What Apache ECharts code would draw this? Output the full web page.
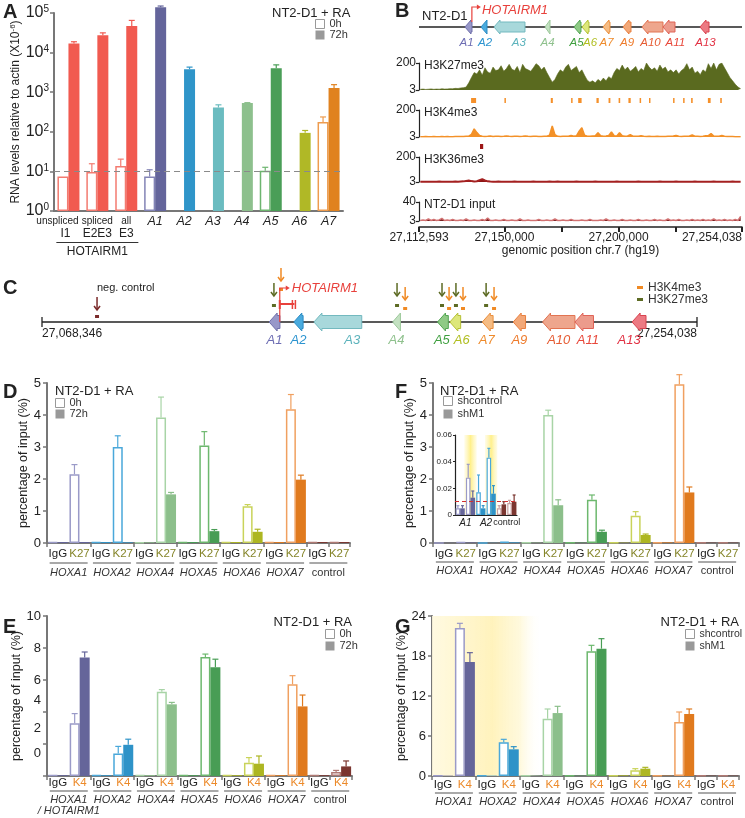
<!DOCTYPE html>
<html><head><meta charset="utf-8"><title>HOTAIRM1 figure</title>
<script src="https://cdn.jsdelivr.net/npm/echarts@6.0.0/dist/echarts.min.js"></script>
<style>html,body{margin:0;padding:0;background:#fff;}#chart{width:745px;height:818px;}</style>
</head><body><div id="chart"></div>
<script>
const FONT = "'Liberation Sans', Arial, Helvetica, sans-serif";

// ================= Panel A =================
const aCats = ['I1','E2E3','E3','A1','A2','A3','A4','A5','A6','A7'];
const aTop = ['unspliced','spliced','all'];
const aGroupLabel = 'HOTAIRM1';
const a0h = [7.4, 9.6, 13.6, 7.4, null, null, null, 10.4, null, 178];
const a72h = [17000, 27500, 47000, 140000, 3800, 410, 530, 4050, 94, 1280];
const a0hErr = [null, 15.6, 20.4, 11, null, null, null, 12.7, null, 237];
const a72hErr = [18800, 31500, 65000, 150000, 4300, 480, 545, 4900, 108, 1550];
const aThreshold = 10;
const aColorIdx = [0,0,0,1,2,3,4,5,6,7];
const aFill = ['#f15a50','#64659b','#2f95c9','#6bbcc0','#8dc08d','#4a9e57','#b0b826','#e0821f'];
const aLine = ['#f37b70','#8384b6','#48a5d6','#8bcbcd','#a8cfa6','#6db56f','#c8cf55','#ee9c4f'];

// ================= Panel B =================
const gStart = 27112593, gEnd = 27254038;
const bTicks = [27112593, 27150000, 27175000, 27200000, 27225000, 27254038];
const bTickLabels = [27112593, 27150000, 27200000, 27254038];
const geneNames = ['A1','A2','A3','A4','A5','A6','A7','A9','A10','A11','A13'];
const geneStart = [27132736,27139743,27145435,27167765,27180468,27183970,27193166,27201924,27210244,27219440,27235640];
const geneEnd   = [27135801,27142370,27158999,27169960,27183533,27187036,27196231,27205427,27219440,27224695,27239581];
const hotTss = 27135750, hotEnd = 27139900;
const k27 = [8,10,7,9,11,8,10,9,12,10,11,13,12,15,14,18,20,24,
  55,95,130,
  120,150,110,165,135,125,170,145,150,180,140,160,190,155,
  145,175,130,190,160,150,
  140,165,195,180,150,170,130,
  95,60,80,120,
  150,135,170,190,145,160,175,130,150,110,
  75,60,70,55,80,65,90,70,100,85,
  130,160,145,185,150,170,140,155,175,135,
  160,145,200,170,150,165,
  140,185,155,170,135,150,
  130,150,120,145,160,
  195,150,170,
  125,140,115,150,135,
  195,160,200,150,190,200,165,
  130,95,70,45,25,
  12];
const k4 = [5,5,6,5,5,6,5,5,6,5,6,5,5,6,6,7,6,8,9,
  22,62,35,14,
  9,7,8,10,7,8,9,7,8,10,8,7,9,8,7,8,10,8,7,9,8,7,6,8,9,
  16,84,20,
  8,7,9,8,9,15,8,12,
  45,70,16,
  9,8,10,12,
  35,12,9,10,14,40,12,10,35,12,9,11,20,9,8,9,12,8,
  7,8,7,6,8,7,7,6,8,9,10,
  15,
  8,7,9,8,10,
  18,
  9,8,7,9,12,
  14,28,
  10,8,9,
  15,
  8,7,6,6,5,5,5];
const k36 = [5,4,5,5,4,5,5,6,5,5, 4,5,5,6,5,7,8,11,14,10, 7,9,18,26,16,8,6,5,5,6, 5,5,4,5,5,6,5,5,5,4,
  5,5,6,5,5,5,4,5,6,5, 5,7,5,5,4,5,5,5,6,5, 5,4,5,5,5,6,5,5,5,4, 5,5,5,6,5,5,4,5,5,5,
  5,6,5,5,4,5,5,5,5,6, 5,4,5,5,5,6,5,5,4,5, 5,5,6,5,5,4,5,5,5,6, 5,5,4,5,5,5,6,5,5,5];
const inputSig = [4,5,4,7,4,6,4,5,8,4, 5,4,6,4,4,5,4,7,4,4, 5,4,4,6,4,9,4,4,5,4, 4,6,4,4,5,4,4,7,4,4,
  5,4,4,4,6,4,4,5,4,4, 7,4,4,5,4,4,6,4,4,4, 5,4,4,6,4,4,4,5,4,7, 4,4,5,4,4,6,4,4,5,4,
  4,6,4,4,5,4,4,6,4,5, 4,4,7,4,5,4,6,4,4,5, 4,6,4,5,4,6,4,5,4,7, 4,5,4,6,4,5,4,6,4,12];
const k4PeakStart = [27135400,27150000,27170300,27179200,27182300,27190300,27195600,27200000,27204300,27209200,27213300,27223850,27228250,27231750,27239100,27244500];
const k4PeakEnd   = [27137600,27150500,27171200,27179700,27183800,27191300,27196400,27200700,27205300,27209700,27213800,27224250,27228650,27232450,27240300,27245200];
const k36PeakStart = [27139300], k36PeakEnd = [27140700];

// ================= Panel C =================
const cStart = 27068346, cEnd = 27254038;
const k27Amp = [27134100, 27169000, 27181750, 27185700, 27194250];
const k4Amp  = [27136100, 27171300, 27183750, 27187700, 27196500];
const negAmp = [27083950];

// ================= Panels D-G =================
const hoxGroups = ['HOXA1','HOXA2','HOXA4','HOXA5','HOXA6','HOXA7','control'];
const d0h  = [0.03,2.15, 0.03,3.0, 0.02,3.92, 0.03,3.05, 0.03,1.15, 0.03,4.18, 0.03,0.03];
const d72h = [0.03,0.03, 0.03,0.02, 0.02,1.52, 0.03,0.37, 0.03,0.35, 0.03,1.98, 0.03,0.03];
const d0hErr  = [null,2.45, null,3.35, null,4.56, null,3.48, null,1.2, null,4.64, null,null];
const d72hErr = [null,null, null,null, null,1.58, null,0.42, null,0.43, null,2.12, null,null];

const f0  = [0.005,0.03, 0.005,0.04, 0.01,4.0, 0.01,1.35, 0.01,0.85, 0.02,4.96, 0.01,0.01];
const f1  = [0.005,0.015, 0.005,0.02, 0.01,1.18, 0.01,0.35, 0.01,0.25, 0.02,1.58, 0.01,0.01];
const f0Err = [null,null, null,null, null,4.15, null,1.5, null,0.98, null,5.26, null,null];
const f1Err = [null,null, null,null, null,1.35, null,0.4, null,0.28, null,1.75, null,null];

const insetGroups = ['A1','A2','control'];
const i0 = [0.005, 0.028, 0.017, 0.043, 0.005, 0.009];
const i1 = [0.005, 0.013, 0.005, 0.016, 0.008, 0.010];
const i0Err = [0.007, 0.038, 0.030, 0.050, 0.007, 0.011];
const i1Err = [0.007, 0.018, 0.007, 0.022, 0.010, 0.015];
const insetHi = [1, 3];
const insetCut = 0.012;

const eGroups = ['HOXA1\n/ HOTAIRM1','HOXA2','HOXA4','HOXA5','HOXA6','HOXA7','control'];
const e0 = [0.05,3.3, 0.05,1.4, 0.05,5.27, 0.05,7.44, 0.05,0.83, 0.05,5.73, 0.05,0.25];
const e1 = [0.05,7.4, 0.05,1.95, 0.05,4.48, 0.05,6.8, 0.05,0.77, 0.05,4.35, 0.05,0.6];
const e0Err = [null,3.9, null,1.85, null,5.4, null,7.62, null,1.15, null,6.27, null,0.35];
const e1Err = [null,7.75, null,2.3, null,4.6, null,7.3, null,1.25, null,5.06, null,0.94];

const g0 = [0.05,22.2, 0.05,5.05, 0.05,8.6, 0.05,18.7, 0.1,0.86, 0.05,8.1, 0.05,0.05];
const g1 = [0.05,17.1, 0.05,4.0, 0.05,9.44, 0.05,19.1, 0.1,1.1, 0.05,9.3, 0.05,0.05];
const g0Err = [null,22.9, null,5.5, null,10.05, null,19.6, null,1.1, null,9.6, null,null];
const g1Err = [null,18.5, null,4.4, null,10.45, null,20.6, null,1.3, null,10.05, null,null];
const gHi = [[0, 4]];

// ================= styles =================
const pFill = ['#65659a','#2e93c8','#8cbf8b','#489d55','#adb622','#e07a1e','#7b3630'];
const pLine = ['#9a9ac8','#4aa8da','#a8d4a6','#6db86e','#c9d35a','#f0a060','#b07a74'];
const insetFill = ['#65659a','#2e93c8','#7b3630'];
const insetLine = ['#9a9ac8','#4aa8da','#c9a0a0'];
const geneFill = ['#9898c9','#4aabde','#a8d8db','#c4e1c2','#8fca86','#dde77a','#f5bc84','#f2a878','#eea68d','#ec9b8c','#ec7a83'];
const geneStroke = ['#7070aa','#2c8cc4','#73b9bf','#9dc99b','#53a654','#b6c137','#eb8f3d','#e98040','#e27452','#e06458','#d9434f'];
const geneText = ['#6d6db3','#2c94d0','#5cb3bc','#8fc18d','#3e9f3e','#b0be20','#ee8b2c','#ee7b2c','#e65c33','#e8483b','#e23244'];
const geneLabelFrac = [0,0,0.3,0,0,0.5,0,0,0,0.2,0];
const geneLabelShiftB = [-2,1,0,0,-1,1,0,0,-2,4,1];
const geneLabelShiftC = [0,0,0,0,-1,1,-1,0,0,0,-10];
const RED = '#e8413c', ORANGE = '#f08a24', OLIVE = '#5d6b24';

// ================= builders =================
const option = {animation:false, textStyle:{fontFamily:FONT}, grid:[], xAxis:[], yAxis:[], series:[], legend:[], graphic:[]};
function addGrid(g){ option.grid.push(Object.assign({outerBoundsMode:'none', containLabel:false}, g)); return option.grid.length-1; }
function addX(a){ option.xAxis.push(a); return option.xAxis.length-1; }
function addY(a){ option.yAxis.push(a); return option.yAxis.length-1; }
const fmtNum = v => Math.round(v).toLocaleString('en-US');

function errRender(offset, cap, colors){
  return function(params, api){
    const i = api.value(0);
    const b = api.coord([i, api.value(1)]);
    const t = api.coord([i, api.value(2)]);
    const x = b[0] + offset;
    const c = colors[api.value(3)];
    return {type:'group', children:[
      {type:'line', shape:{x1:x,y1:b[1],x2:x,y2:t[1]}, style:{stroke:c, lineWidth:1.2}},
      {type:'line', shape:{x1:x-cap,y1:t[1],x2:x+cap,y2:t[1]}, style:{stroke:c, lineWidth:1.2}}
    ]};
  };
}
function errData(vals, errs, grpFn){
  const out = [];
  errs.forEach((e,i)=>{ if(e!=null && vals[i]!=null) out.push([i, vals[i], e, grpFn(i)]); });
  return out;
}

function legendBox(left, top, names, gap, fs){
  return {left, top, padding:0, orient:'vertical', itemWidth:9, itemHeight:9, itemGap:gap, selectedMode:false, icon:'rect',
    textStyle:{fontSize:fs||11, color:'#333', lineHeight:11},
    data:[{name:names[0], itemStyle:{color:'#fff', borderColor:'#999', borderWidth:1}},
          {name:names[1], itemStyle:{color:'#999', borderWidth:0}}]};
}
function txt(text, x, y, font, fill, align){
  option.graphic.push({type:'text', x, y, silent:true, style:{text, font, fill: fill||'#222', align: align||'left', verticalAlign:'middle', textAlign: align||'left', textVerticalAlign:'middle'}});
}

// ================= Panel A =================
const gA = addGrid({left:54, top:13, width:289, height:198});
const xA = addX({type:'category', gridIndex:gA, data:aCats, axisLine:{lineStyle:{color:'#777', width:2}}, axisTick:{show:false},
  axisLabel:{interval:0, margin:4, color:'#222',
    formatter:(v,i)=>{
      if(i===0) return '{s0|'+aTop[i]+'}\n{b0|'+v+'}';
      if(i<3){ let s='{s|'+aTop[i]+'}\n{b|'+v+'}'; if(i===1) s+='\n{ul| }\n{h|'+aGroupLabel+'}'; return s; }
      return '{it|'+v+'}'; },
    rich:{s:{fontSize:10,lineHeight:13,color:'#222'}, s0:{fontSize:10,lineHeight:13,color:'#222', padding:[0,22,0,0]},
      b:{fontSize:12,lineHeight:12,color:'#222'}, b0:{fontSize:12,lineHeight:12,color:'#222', padding:[0,6,0,0]},
      it:{fontSize:12.5,lineHeight:13,fontStyle:'italic',color:'#222'},
      ul:{width:82,height:1,lineHeight:5,backgroundColor:'#333'}, h:{fontSize:12,lineHeight:14,color:'#222'}}}});
const yA = addY({type:'log', gridIndex:gA, min:1, max:100000, logBase:10,
  axisLine:{show:true, lineStyle:{color:'#777', width:2}}, axisTick:{show:true, length:4, lineStyle:{color:'#777', width:1.5}}, splitLine:{show:false},
  axisLabel:{margin:5, formatter:v=>'{b|10}{s|'+Math.round(Math.log10(v))+'}', rich:{b:{fontSize:16,color:'#222'}, s:{fontSize:10,color:'#222',verticalAlign:'top', padding:[0,0,7,0]}}},
  name:'RNA levels relative to actin (X10{s|-6})', nameLocation:'middle', nameGap:29,
  nameTextStyle:{fontSize:12, color:'#222', rich:{s:{fontSize:8, color:'#222', padding:[0,0,6,0]}}}});
option.series.push({type:'line', xAxisIndex:xA, yAxisIndex:yA, data:[], z:1, silent:true,
  markLine:{silent:true, symbol:'none', label:{show:false}, lineStyle:{type:[6,4], color:'#8a8a8a', width:1.2}, data:[{yAxis:aThreshold}]}});
option.series.push({type:'bar', name:'0h', xAxisIndex:xA, yAxisIndex:yA, barWidth:11, barGap:'0%', clip:false, z:3,
  data:a0h.map((v,i)=> v==null ? '-' : {value:v, itemStyle:{color:'#fff', borderColor:aLine[aColorIdx[i]], borderWidth:1.5}})});
option.series.push({type:'bar', name:'72h', xAxisIndex:xA, yAxisIndex:yA, barWidth:11, clip:false, z:3,
  data:a72h.map((v,i)=>({value:v, itemStyle:{color:aFill[aColorIdx[i]]}}))});
option.series.push({type:'custom', xAxisIndex:xA, yAxisIndex:yA, z:4, silent:true, renderItem:errRender(-5.5, 3, aLine), data:errData(a0h, a0hErr, i=>aColorIdx[i])});
option.series.push({type:'custom', xAxisIndex:xA, yAxisIndex:yA, z:4, silent:true, renderItem:errRender(5.5, 3, aFill), data:errData(a72h, a72hErr, i=>aColorIdx[i])});
option.legend.push(legendBox(315, 18.5, ['0h','72h'], 0));
txt('NT2-D1 + RA', 272, 13, '13px '+FONT);

// ================= Panel B =================
const bLeft = 419, bWidth = 323;
const binBp = (gEnd - gStart) / k27.length;
const binPos = i => Math.round(gStart + (i + 0.5) * binBp);
function hiddenX(grid){ return addX({type:'value', gridIndex:grid, min:gStart, max:gEnd, show:false}); }
function hiddenY(grid, mn, mx){ return addY({type:'value', gridIndex:grid, min:mn, max:mx, show:false}); }
function trackY(grid, max){
  return addY({type:'value', gridIndex:grid, min:3, max:max,
    axisLine:{show:true, lineStyle:{color:'#222', width:1.2}},
    axisTick:{show:true, customValues:[3,max], length:3, lineStyle:{color:'#222', width:1.2}},
    axisLabel:{customValues:[3,max], fontSize:12, color:'#222', margin:3}, splitLine:{show:false}});
}
function geneRenderer(headH, bodyH, headLen, labelDy, fontSize, shift){
  return function(params, api){
    const i = api.value(2);
    const s = api.coord([api.value(0), 0]);
    const e = api.coord([api.value(1), 0]);
    const y = s[1], x1 = s[0], x2 = e[0];
    let pts;
    if (x2 - x1 <= headLen + 0.5) pts = [[x1,y],[x2,y-headH/2],[x2,y+headH/2]];
    else pts = [[x1,y],[x1+headLen,y-headH/2],[x1+headLen,y-bodyH/2],[x2,y-bodyH/2],[x2,y+bodyH/2],[x1+headLen,y+bodyH/2],[x1+headLen,y+headH/2]];
    const lx = (x1+x2)/2 + geneLabelFrac[i]*(x2-x1) + shift[i];
    return {type:'group', children:[
      {type:'polygon', shape:{points:pts}, style:{fill:geneFill[i], stroke:geneStroke[i], lineWidth:1}},
      {type:'text', x:lx, y:y+labelDy, style:{text:geneNames[i], fill:geneText[i], font:'italic '+fontSize+'px '+FONT, align:'center', verticalAlign:'middle'}}
    ]};
  };
}
const geneData = geneNames.map((n,i)=>[geneStart[i], geneEnd[i], i]);

// genes track
const gBg = addGrid({left:bLeft, width:bWidth, top:17, height:10});
const xBg = hiddenX(gBg), yBg = hiddenY(gBg, 0, 1);
option.series.push({type:'custom', xAxisIndex:xBg, yAxisIndex:yBg, z:2, silent:true, data:[[gStart, gEnd]],
  renderItem:(p, api)=>{ const a = api.coord([api.value(0),0]), b = api.coord([api.value(1),0]);
    return {type:'line', shape:{x1:a[0],y1:a[1],x2:b[0],y2:b[1]}, style:{stroke:'#222', lineWidth:1.3}}; }});
option.series.push({type:'custom', xAxisIndex:xBg, yAxisIndex:yBg, z:3, silent:true, data:geneData, renderItem:geneRenderer(14, 10, 6, 16, 11.5, geneLabelShiftB)});
option.series.push({type:'custom', xAxisIndex:xBg, yAxisIndex:yBg, z:4, silent:true, data:[[hotTss, hotEnd]],
  renderItem:(p, api)=>{ const c = api.coord([api.value(0),0]); const x=c[0], y=c[1];
    return {type:'group', children:[
      {type:'polyline', shape:{points:[[x,y-5],[x,y-20],[x+6,y-20]]}, style:{stroke:RED, lineWidth:1.2, fill:null}},
      {type:'polygon', shape:{points:[[x+9,y-20],[x+5,y-22.5],[x+5,y-17.5]]}, style:{fill:RED}},
      {type:'text', x:x+10, y:y-17, style:{text:'HOTAIRM1', font:'italic 13px '+FONT, fill:RED, align:'left', verticalAlign:'middle'}}
    ]}; }});
txt('NT2-D1', 422, 16, '13px '+FONT);
txt('B', 395, 11, 'bold 20px '+FONT);

// H3K27me3
const gB1 = addGrid({left:bLeft, width:bWidth, top:63, height:27});
const xB1 = hiddenX(gB1), yB1 = trackY(gB1, 200);
option.series.push({type:'line', xAxisIndex:xB1, yAxisIndex:yB1, silent:true, symbol:'none', data:k27.map((v,i)=>[binPos(i), v]),
  lineStyle:{color:'#5a6a1f', width:0.6}, areaStyle:{color:'#5a6a1f', opacity:1, origin:'start'}});
txt('H3K27me3', 424, 66, '12px '+FONT);

// H3K4me3 peak calls
const gB2 = addGrid({left:bLeft, width:bWidth, top:98, height:5});
const xB2 = hiddenX(gB2), yB2 = hiddenY(gB2, 0, 1);
function blockRender(color){
  return (p, api)=>{ const a = api.coord([api.value(0), 1]), b = api.coord([api.value(1), 0]);
    const w = Math.max(1.5, b[0]-a[0]);
    return {type:'rect', shape:{x:a[0], y:a[1], width:w, height:b[1]-a[1]}, style:{fill:color}}; };
}
option.series.push({type:'custom', xAxisIndex:xB2, yAxisIndex:yB2, silent:true, data:k4PeakStart.map((s,i)=>[s, k4PeakEnd[i]]), renderItem:blockRender('#f5902a')});

// H3K4me3
const gB3 = addGrid({left:bLeft, width:bWidth, top:110, height:27});
const xB3 = hiddenX(gB3), yB3 = trackY(gB3, 200);
option.series.push({type:'line', xAxisIndex:xB3, yAxisIndex:yB3, silent:true, symbol:'none', data:k4.map((v,i)=>[binPos(i), v]),
  lineStyle:{color:'#f39128', width:1.5}, areaStyle:{color:'#f39128', opacity:1, origin:'start'}});
txt('H3K4me3', 424, 113, '12px '+FONT);

// H3K36me3 peak
const gB4 = addGrid({left:bLeft, width:bWidth, top:144, height:5});
const xB4 = hiddenX(gB4), yB4 = hiddenY(gB4, 0, 1);
option.series.push({type:'custom', xAxisIndex:xB4, yAxisIndex:yB4, silent:true, data:k36PeakStart.map((s,i)=>[s, k36PeakEnd[i]]), renderItem:blockRender('#9c1616')});

// H3K36me3
const gB5 = addGrid({left:bLeft, width:bWidth, top:157, height:25});
const xB5 = hiddenX(gB5), yB5 = trackY(gB5, 200);
option.series.push({type:'line', xAxisIndex:xB5, yAxisIndex:yB5, silent:true, symbol:'none', data:k36.map((v,i)=>[binPos(i), v]),
  lineStyle:{color:'#a42020', width:2}, areaStyle:{color:'#8b1414', opacity:1, origin:'start'}});
txt('H3K36me3', 424, 160, '12px '+FONT);

// input
const gB6 = addGrid({left:bLeft, width:bWidth, top:202, height:19});
const xB6 = addX({type:'value', gridIndex:gB6, min:gStart, max:gEnd, position:'bottom', offset:6,
  axisLine:{show:true, onZero:false, lineStyle:{color:'#222', width:1.5}},
  axisTick:{show:true, customValues:bTicks, length:5, lineStyle:{color:'#222', width:2}},
  axisLabel:{customValues:bTickLabels, formatter:fmtNum, fontSize:12, color:'#222', margin:5, alignMaxLabel:'right'},
  splitLine:{show:false}, name:'genomic position chr.7 (hg19)', nameLocation:'middle', nameGap:17, nameTextStyle:{fontSize:12, color:'#222'}});
const yB6 = trackY(gB6, 40);
option.series.push({type:'line', xAxisIndex:xB6, yAxisIndex:yB6, silent:true, symbol:'none', data:inputSig.map((v,i)=>[binPos(i), v]),
  lineStyle:{color:'#d27272', width:1.5}, areaStyle:{color:'#7a1f1f', opacity:1, origin:'start'}});
txt('NT2-D1 input', 424, 205, '12px '+FONT);

// ================= Panel C =================
const gC = addGrid({left:42, top:282, width:655, height:40});
const xC = addX({type:'value', gridIndex:gC, min:cStart, max:cEnd, axisLine:{show:false}, axisTick:{show:false}, splitLine:{show:false},
  axisLabel:{customValues:[cStart, cEnd], formatter:fmtNum, fontSize:12, color:'#222', margin:6, alignMinLabel:'left', alignMaxLabel:'right'}});
const yC = hiddenY(gC, 0, 10);
option.series.push({type:'custom', xAxisIndex:xC, yAxisIndex:yC, z:2, silent:true, data:[[cStart, cEnd]],
  renderItem:(p, api)=>{ const a = api.coord([api.value(0),0]), b = api.coord([api.value(1),0]);
    return {type:'group', children:[
      {type:'line', shape:{x1:a[0],y1:a[1],x2:b[0],y2:b[1]}, style:{stroke:'#222', lineWidth:1.3}},
      {type:'line', shape:{x1:a[0],y1:a[1]-5,x2:a[0],y2:a[1]+5}, style:{stroke:'#222', lineWidth:1.3}},
      {type:'line', shape:{x1:b[0],y1:b[1]-5,x2:b[0],y2:b[1]+5}, style:{stroke:'#222', lineWidth:1.3}}]}; }});
option.series.push({type:'custom', xAxisIndex:xC, yAxisIndex:yC, z:3, silent:true, data:geneData, renderItem:geneRenderer(18, 13, 8, 18, 13, geneLabelShiftC)});
function arrowDown(x, yTop, yTip, color){
  return [{type:'line', shape:{x1:x,y1:yTop,x2:x,y2:yTip}, style:{stroke:color, lineWidth:1.5}},
          {type:'polyline', shape:{points:[[x-3,yTip-4],[x,yTip],[x+3,yTip-4]]}, style:{stroke:color, lineWidth:1.5, fill:null}}];
}
option.series.push({type:'custom', name:'H3K27me3', xAxisIndex:xC, yAxisIndex:yC, z:4, silent:true, itemStyle:{color:OLIVE}, data:k27Amp.map(v=>[v]),
  renderItem:(p, api)=>{ const c = api.coord([api.value(0),0]); const x=c[0], y=c[1];
    return {type:'group', children:arrowDown(x, y-39, y-26, OLIVE).concat([{type:'rect', shape:{x:x-2,y:y-18,width:4,height:3}, style:{fill:OLIVE}}])}; }});
option.series.push({type:'custom', name:'H3K4me3', xAxisIndex:xC, yAxisIndex:yC, z:4, silent:true, itemStyle:{color:ORANGE}, data:k4Amp.map(v=>[v]),
  renderItem:(p, api)=>{ const c = api.coord([api.value(0),0]); const x=c[0], y=c[1];
    const up = p.dataIndex === 0 ? 19 : 0;
    return {type:'group', children:arrowDown(x, y-35-up, y-22-up, ORANGE).concat([{type:'rect', shape:{x:x-2,y:y-15-up,width:4,height:3}, style:{fill:ORANGE}}])}; }});
option.series.push({type:'custom', xAxisIndex:xC, yAxisIndex:yC, z:4, silent:true, data:negAmp.map(v=>[v]),
  renderItem:(p, api)=>{ const c = api.coord([api.value(0),0]); const x=c[0], y=c[1];
    return {type:'group', children:arrowDown(x, y-25, y-12, '#7a2a2a').concat([{type:'rect', shape:{x:x-2,y:y-7,width:4,height:3}, style:{fill:'#7a2a2a'}}])}; }});
option.series.push({type:'custom', xAxisIndex:xC, yAxisIndex:yC, z:5, silent:true, data:[[hotTss, hotEnd]],
  renderItem:(p, api)=>{ const c = api.coord([api.value(0),0]), d = api.coord([api.value(1),0]); const x=c[0], y=c[1], x2=d[0];
    return {type:'group', children:[
      {type:'polyline', shape:{points:[[x,y],[x,y-34],[x+7,y-34]]}, style:{stroke:RED, lineWidth:1.2, fill:null}},
      {type:'polygon', shape:{points:[[x+10,y-34],[x+6,y-36.5],[x+6,y-31.5]]}, style:{fill:RED}},
      {type:'text', x:x+12, y:y-34, style:{text:'HOTAIRM1', font:'italic 13px '+FONT, fill:RED, align:'left', verticalAlign:'middle'}},
      {type:'line', shape:{x1:x,y1:y-22,x2:x,y2:y-13}, style:{stroke:RED, lineWidth:2}},
      {type:'line', shape:{x1:x,y1:y-18,x2:x2,y2:y-18}, style:{stroke:RED, lineWidth:2}},
      {type:'line', shape:{x1:x2-2,y1:y-22,x2:x2-2,y2:y-13}, style:{stroke:RED, lineWidth:1.5}},
      {type:'line', shape:{x1:x2+1,y1:y-22,x2:x2+1,y2:y-13}, style:{stroke:RED, lineWidth:1.5}}
    ]}; }});
option.legend.push({left:637, top:281.5, padding:0, orient:'vertical', itemWidth:6, itemHeight:3, itemGap:0, selectedMode:false, icon:'rect',
  textStyle:{fontSize:12, color:'#333', lineHeight:11},
  data:[{name:'H3K4me3', itemStyle:{color:ORANGE}}, {name:'H3K27me3', itemStyle:{color:OLIVE}}]});
txt('C', 3, 288, 'bold 20px '+FONT);
txt('neg. control', 97, 288, '11px '+FONT);

// ================= bar panels D-G =================
function barPanel(cfg){
  const g = addGrid(cfg.grid);
  const cats = [];
  cfg.groups.forEach(gr => cfg.subs.forEach(s => cats.push(gr + '|' + s)));
  const x = addX({type:'category', gridIndex:g, position:'bottom', data:cats,
    axisLine:{lineStyle:{color:'#777', width:2}}, axisTick:{show:true, interval:1, length:4, lineStyle:{color:'#777', width:1.5}},
    axisLabel:{interval:0, margin:cfg.subMargin, formatter:v=>{ const s = v.split('|')[1]; return s==='IgG' ? '{i|IgG}' : '{k|'+s+'}'; },
      rich:{i:{fontSize:11.5, color:'#222'}, k:{fontSize:11.5, color:cfg.kColor}}}});
  addX({type:'category', gridIndex:g, position:'bottom', data:cfg.groups, axisLine:{show:false}, axisTick:{show:false},
    axisLabel:{interval:0, margin:cfg.grpMargin, color:'#333',
      formatter:v=>{ const parts = v.split('\n'); const body = parts.map(t => t==='control' ? '{c|control}' : '{g|'+t+'}').join('\n'); return '{ul| }\n' + body; },
      rich:{ul:{width:38, height:1, lineHeight:6, backgroundColor:'#555'}, g:{fontSize:11, fontStyle:'italic', color:'#333', lineHeight:cfg.grpLH}, c:{fontSize:11, color:'#333', lineHeight:cfg.grpLH}}}});
  const yCfg = {type:'value', gridIndex:g, min:0, max:cfg.yMax, interval:cfg.yInt,
    axisLine:{show:true, lineStyle:{color:'#777', width:2}}, axisTick:{show:true, length:4, lineStyle:{color:'#777', width:1.5}}, splitLine:{show:false},
    axisLabel:{fontSize:13, color:'#222', margin:6},
    name:'percentage of input (%)', nameLocation:'middle', nameGap:cfg.nameGap, nameTextStyle:{fontSize:12.5, color:'#222'}};
  if (cfg.yFmt){ yCfg.axisLabel.formatter = cfg.yFmt; yCfg.axisLabel.rich = cfg.yRich; }
  const y = addY(yCfg);
  const grp = i => Math.floor(i / cfg.subs.length);
  const bw = cfg.bw;
  option.series.push({type:'bar', name:cfg.names[0], xAxisIndex:x, yAxisIndex:y, barWidth:bw, barGap:'0%', z:3,
    data:cfg.v0.map((v,i)=>({value:v, itemStyle:{color:'#fff', borderColor:cfg.line[grp(i)], borderWidth:1.5}}))});
  option.series.push({type:'bar', name:cfg.names[1], xAxisIndex:x, yAxisIndex:y, barWidth:bw, z:3,
    data:cfg.v1.map((v,i)=>({value:v, itemStyle:{color:cfg.fill[grp(i)]}}))});
  option.series.push({type:'custom', xAxisIndex:x, yAxisIndex:y, z:4, silent:true, renderItem:errRender(-bw/2, 3, cfg.line), data:errData(cfg.v0, cfg.e0, grp)});
  option.series.push({type:'custom', xAxisIndex:x, yAxisIndex:y, z:4, silent:true, renderItem:errRender(bw/2, 3, cfg.fill), data:errData(cfg.v1, cfg.e1, grp)});
  return {g, x, y};
}

// D
barPanel({grid:{left:47, top:383, width:303, height:160}, groups:hoxGroups, subs:['IgG','K27'], kColor:'#85852a',
  v0:d0h, v1:d72h, e0:d0hErr, e1:d72hErr, fill:pFill, line:pLine, yMax:5, yInt:1, nameGap:15, names:['0h','72h'], bw:10,
  subMargin:5, grpMargin:17, grpLH:13});
option.legend.push(legendBox(55, 397.5, ['0h','72h'], 0));
txt('D', 3, 392, 'bold 20px '+FONT);
txt('NT2-D1 + RA', 55, 391, '13px '+FONT);

// F
barPanel({grid:{left:433, top:383, width:306, height:160}, groups:hoxGroups, subs:['IgG','K27'], kColor:'#85852a',
  v0:f0, v1:f1, e0:f0Err, e1:f1Err, fill:pFill, line:pLine, yMax:5, yInt:1, nameGap:14, names:['shcontrol','shM1'], bw:10,
  subMargin:5, grpMargin:16, grpLH:12});
option.legend.push(legendBox(443, 395.5, ['shcontrol','shM1'], 2));
txt('F', 395, 392, 'bold 20px '+FONT);
txt('NT2-D1 + RA', 440, 391, '13px '+FONT);

// F inset
const gIn = addGrid({left:455, top:435, width:62, height:80});
const insetCats = [];
insetGroups.forEach(gr => ['IgG','K27'].forEach(s => insetCats.push(gr + '|' + s)));
const xIn = addX({type:'category', gridIndex:gIn, position:'bottom', data:insetCats, axisLine:{lineStyle:{color:'#222', width:1.2}}, axisTick:{show:false}, axisLabel:{show:false}});
addX({type:'category', gridIndex:gIn, position:'bottom', data:insetGroups, axisLine:{show:false}, axisTick:{show:false},
  axisLabel:{interval:0, margin:3, formatter:v=> v==='control' ? '{c|control}' : '{g|'+v+'}', rich:{g:{fontSize:10, fontStyle:'italic', color:'#222'}, c:{fontSize:9, color:'#222'}}}});
const yIn = addY({type:'value', gridIndex:gIn, min:0, max:0.06, interval:0.02, axisLine:{show:true, lineStyle:{color:'#222', width:1.2}},
  axisTick:{show:true, length:2, lineStyle:{color:'#222'}}, splitLine:{show:false},
  axisLabel:{fontSize:8, margin:3, color:'#222', formatter:v=> v===0 ? '0' : v.toFixed(2)}});
const inGrp = i => Math.floor(i/2);
option.series.push({type:'custom', xAxisIndex:xIn, yAxisIndex:yIn, z:1, silent:true, data:insetHi.map(c=>[c]),
  renderItem:(p, api)=>{ const t = api.coord([api.value(0), 0.06]), b = api.coord([api.value(0), 0]); const w = api.size([1,0])[0];
    return {type:'rect', shape:{x:t[0]-w/2-1, y:t[1], width:w+2, height:b[1]-t[1]},
      style:{fill:{type:'linear', x:0, y:0, x2:1, y2:0, colorStops:[{offset:0,color:'rgba(255,242,160,0.25)'},{offset:0.5,color:'rgba(255,236,110,0.8)'},{offset:1,color:'rgba(255,242,160,0.25)'}]}}}; }});
option.series.push({type:'bar', name:'shcontrol', xAxisIndex:xIn, yAxisIndex:yIn, barWidth:4.6, barGap:'0%', z:3,
  data:i0.map((v,i)=>({value:v, itemStyle:{color:'#fff', borderColor:insetLine[inGrp(i)], borderWidth:1.2}})),
  markLine:{silent:true, symbol:'none', label:{show:false}, lineStyle:{type:[4,3], color:'#d03030', width:1}, data:[{yAxis:insetCut}]}});
option.series.push({type:'bar', name:'shM1', xAxisIndex:xIn, yAxisIndex:yIn, barWidth:4.6, z:3,
  data:i1.map((v,i)=>({value:v, itemStyle:{color:insetFill[inGrp(i)]}}))});
option.series.push({type:'custom', xAxisIndex:xIn, yAxisIndex:yIn, z:4, silent:true, renderItem:errRender(-2.3, 1.5, insetLine), data:errData(i0, i0Err, inGrp)});
option.series.push({type:'custom', xAxisIndex:xIn, yAxisIndex:yIn, z:4, silent:true, renderItem:errRender(2.3, 1.5, insetFill), data:errData(i1, i1Err, inGrp)});

// E
barPanel({grid:{left:47, top:616, width:305, height:160}, groups:eGroups, subs:['IgG','K4'], kColor:'#ec8a2a',
  v0:e0, v1:e1, e0:e0Err, e1:e1Err, fill:pFill, line:pLine, yMax:10, yInt:2, nameGap:15, names:['0h','72h'], bw:10,
  subMargin:1, grpMargin:12, grpLH:11.5,
  yFmt:v=> v===4 ? '{a|4}' : v===2 ? '{b|2}' : v===0 ? '{c|0}' : '{n|'+v+'}',
  yRich:{n:{fontSize:13, color:'#222'}, a:{fontSize:13, color:'#222', padding:[0,0,24,0]}, b:{fontSize:13, color:'#222', padding:[0,0,32,0]}, c:{fontSize:13, color:'#222', padding:[0,0,46,0]}}});
option.legend.push(legendBox(325, 628.5, ['0h','72h'], 1));
txt('E', 3, 627, 'bold 20px '+FONT);
txt('NT2-D1 + RA', 352, 622, '13px '+FONT, '#222', 'right');

// G
const pG = barPanel({grid:{left:432, top:616, width:307, height:160}, groups:hoxGroups, subs:['IgG','K4'], kColor:'#ec8a2a',
  v0:g0, v1:g1, e0:g0Err, e1:g1Err, fill:pFill, line:pLine, yMax:24, yInt:6, nameGap:17, names:['shcontrol','shM1'], bw:10,
  subMargin:3, grpMargin:14, grpLH:12});
option.series.push({type:'custom', xAxisIndex:pG.x, yAxisIndex:pG.y, z:1, silent:true, data:gHi,
  renderItem:(p, api)=>{ const w = api.size([1,0])[0]; const a = api.coord([api.value(0), 24]), b = api.coord([api.value(1), 0]);
    const x0 = a[0]-w/2, x1 = b[0]+w/2;
    return {type:'rect', shape:{x:x0, y:a[1], width:x1-x0, height:b[1]-a[1]},
      style:{fill:{type:'linear', x:0, y:0, x2:1, y2:0, colorStops:[{offset:0,color:'rgba(255,249,222,0.9)'},{offset:0.55,color:'rgba(255,242,185,0.95)'},{offset:0.8,color:'rgba(255,246,205,0.7)'},{offset:1,color:'rgba(255,255,255,0)'}]}}}; }});
option.legend.push(legendBox(685, 628.5, ['shcontrol','shM1'], 1, 10.5));
txt('G', 395, 627, 'bold 20px '+FONT);
txt('NT2-D1 + RA', 739, 622, '13px '+FONT, '#222', 'right');

txt('A', 3, 12, 'bold 20px '+FONT);

const chart = echarts.init(document.getElementById('chart'), null, {renderer:'canvas'});
chart.setOption(option);
</script></body></html>
